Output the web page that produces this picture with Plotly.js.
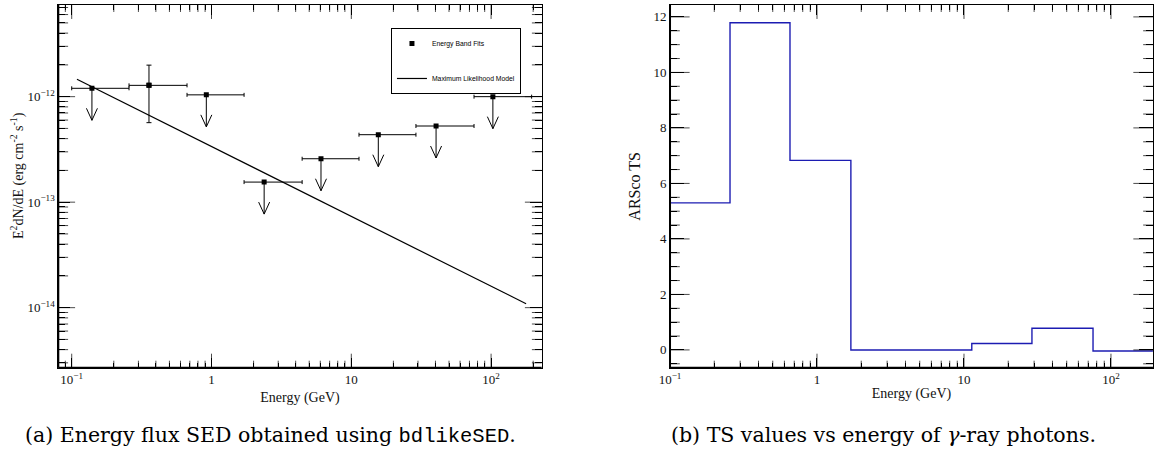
<!DOCTYPE html>
<html>
<head>
<meta charset="utf-8">
<script src="https://cdn.plot.ly/plotly-3.0.1.min.js"></script>
<style>
  html, body { margin: 0; padding: 0; background: #fff; }
  #chart { width: 1173px; height: 461px; }
</style>
</head>
<body>
<div id="chart"></div>
<script>
// ---- Energy band fits (SED), GeV and erg cm^-2 s^-1 ----
const bandEnergy = [0.1395, 0.357, 0.918, 2.38, 6.07, 15.6, 40.4, 103];
const bandLow    = [0.1, 0.257, 0.668, 1.71, 4.45, 11.35, 29.0, 75.5];
const bandHigh   = [0.257, 0.668, 1.71, 4.45, 11.35, 29.0, 75.5, 195];
const bandFlux   = [1.20e-12, 1.28e-12, 1.04e-12, 1.55e-13, 2.58e-13, 4.36e-13, 5.27e-13, 1.00e-12];
const upperLimit = [true, false, true, true, true, true, true, true];
const fluxErrUp  = [null, 1.99e-12, null, null, null, null, null, null];
const fluxErrLow = [null, 5.67e-13, null, null, null, null, null, null];

// ---- Maximum likelihood power-law model ----
const modelEnergy = [0.109, 178];
const modelFlux   = [1.46e-12, 1.09e-14];

// ---- TS per energy bin ----
const tsEdges  = [0.1, 0.256, 0.655, 1.70, 4.45, 11.3, 29.0, 75.5, 193];
const tsValues = [5.30, 11.79, 6.83, 0.0, 0.0, 0.23, 0.78, -0.04];

// ---- tick labels ----
const energyTicks = [0.1, 1, 10, 100];
const energyTickText = ['10<sup>\u22121</sup>', '1', '10', '10<sup>2</sup>'];
const fluxTicks = [1e-14, 1e-13, 1e-12];
const fluxTickText = ['10<sup>\u221214</sup>', '10<sup>\u221213</sup>', '10<sup>\u221212</sup>'];
const tsTicks = [0, 2, 4, 6, 8, 10, 12];

// minor log ticks (2..9 in each decade), minor linear ticks every 0.5
function logMinor(d0, d1) {
  const out = [];
  for (let d = d0; d <= d1; d++) for (let k = 2; k <= 9; k++) out.push(k * Math.pow(10, d));
  return out;
}
const energyMinor = logMinor(-2, 2);
const fluxMinor = logMinor(-15, -12);
const tsMinor = [];
for (let v = -1; v <= 13; v += 0.5) if (v % 2 !== 0) tsMinor.push(v);

const serif = 'Liberation Serif, Times New Roman, serif';
const tickFont = { family: serif, size: 13, color: '#111' };

const W = 1173, H = 461;
const xL = [0.0497, 0.4618], xR = [0.5712, 0.9829], yD = [0.2024, 0.9892];
const xRangeL = [-1.096, 2.362], yRangeL = [-14.569, -11.131];
const xRangeR = [-1, Math.log10(193)], yRangeR = [-0.64, 12.43];

// SED points
const ptsMain = {
  x: bandEnergy, y: bandFlux, type: 'scatter', mode: 'markers',
  xaxis: 'x', yaxis: 'y', name: 'Energy Band Fits', legendgroup: 'a',
  marker: { symbol: 'square', size: 5, color: '#000' },
  error_x: {
    type: 'data', symmetric: false,
    array: bandEnergy.map((e, i) => bandHigh[i] - e),
    arrayminus: bandEnergy.map((e, i) => e - bandLow[i]),
    color: '#000', thickness: 1, width: 2
  },
  hoverinfo: 'skip'
};
const detIdx = upperLimit.map((u, i) => u ? -1 : i).filter(i => i >= 0);
const ptsDetected = {
  x: detIdx.map(i => bandEnergy[i]), y: detIdx.map(i => bandFlux[i]),
  type: 'scatter', mode: 'markers', xaxis: 'x', yaxis: 'y', showlegend: false, legendgroup: 'a',
  marker: { symbol: 'square', size: 5, color: '#000' },
  error_y: {
    type: 'data', symmetric: false,
    array: detIdx.map(i => fluxErrUp[i] - bandFlux[i]),
    arrayminus: detIdx.map(i => bandFlux[i] - fluxErrLow[i]),
    color: '#000', thickness: 1, width: 2.5
  },
  hoverinfo: 'skip'
};
const model = {
  x: modelEnergy, y: modelFlux, type: 'scatter', mode: 'lines',
  xaxis: 'x', yaxis: 'y', name: 'Maximum Likelihood Model', legendgroup: 'b',
  line: { color: '#000', width: 1.2 }, hoverinfo: 'skip'
};

// TS histogram as a step line
const tsX = tsEdges.slice();
const tsY = tsValues.concat([tsValues[tsValues.length - 1]]);
const tsTrace = {
  x: tsX, y: tsY, type: 'scatter', mode: 'lines', line: { shape: 'hv', color: 'rgb(28,28,178)', width: 1.4 },
  xaxis: 'x2', yaxis: 'y2', showlegend: false, hoverinfo: 'skip'
};

// ROOT-style inward tick marks on all four frame sides: line markers centred on the
// frame edge; the plot-area clip keeps only the inner half.
function tickMarkers(xa, ya, xRange, xLog, yRange, yLog, xt, yt) {
  const toX = t => xLog ? Math.pow(10, t) : t;
  const toY = t => yLog ? Math.pow(10, t) : t;
  const posX = v => xLog ? Math.log10(v) : v;
  const posY = v => yLog ? Math.log10(v) : v;
  const X = [], Y = [], S = [], M = [];
  xt.forEach(([vals, len]) => vals.forEach(v => {
    const t = posX(v);
    if (t <= xRange[0] + 1e-9 || t >= xRange[1] - 1e-9) return;
    [yRange[0], yRange[1]].forEach(edge => { X.push(v); Y.push(toY(edge)); S.push(2 * len); M.push('line-ns'); });
  }));
  yt.forEach(([vals, len]) => vals.forEach(v => {
    const t = posY(v);
    if (t <= yRange[0] + 1e-9 || t >= yRange[1] - 1e-9) return;
    [xRange[0], xRange[1]].forEach(edge => { X.push(toX(edge)); Y.push(v); S.push(2 * len); M.push('line-ew'); });
  }));
  return { x: X, y: Y, type: 'scatter', mode: 'markers', xaxis: xa, yaxis: ya, cliponaxis: true,
    marker: { symbol: M, size: S, color: '#000', line: { color: '#000', width: 1 } },
    showlegend: false, hoverinfo: 'skip' };
}
const ticksL = tickMarkers('x', 'y', xRangeL, true, yRangeL, true,
  [[energyTicks, 10], [energyMinor, 5]], [[fluxTicks, 12], [fluxMinor, 7]]);
const ticksR = tickMarkers('x2', 'y2', xRangeR, true, yRangeR, false,
  [[energyTicks, 10], [energyMinor, 5]], [[tsTicks, 14], [tsMinor, 7]]);

const shapes = [];
// downward arrows (fixed pixel length) hanging from each upper-limit point
bandEnergy.forEach((e, i) => {
  if (!upperLimit[i]) return;
  shapes.push({
    type: 'path', xref: 'x', yref: 'y', xsizemode: 'pixel', ysizemode: 'pixel',
    xanchor: e, yanchor: bandFlux[i],
    path: 'M0,0 L0,-32 M-5.5,-20 L0,-32 L5.5,-20',
    line: { color: '#000', width: 1 }
  });
});
// heavier bottom/left frame edges of both panels
[xL, xR].forEach(d => {
  shapes.push({ type: 'line', xref: 'paper', yref: 'paper', x0: d[0], x1: d[1], y0: yD[0], y1: yD[0], line: { color: '#000', width: 2 } });
  shapes.push({ type: 'line', xref: 'paper', yref: 'paper', x0: d[0], x1: d[0], y0: yD[0], y1: yD[1], line: { color: '#000', width: 2 } });
});

function axisBase(extra, majorLen, minorLen, minorVals) {
  return Object.assign({
    showgrid: false, zeroline: false, showline: true, mirror: 'ticks',
    linecolor: '#000', linewidth: 1, tickfont: tickFont, tickmode: 'array',
    ticks: 'inside', ticklen: majorLen, tickwidth: 1, tickcolor: '#000',
    minor: { tickmode: 'array', tickvals: minorVals, ticks: 'inside', ticklen: minorLen, tickwidth: 1, tickcolor: '#000', showgrid: false }
  }, extra);
}

const layout = {
  width: W, height: H, margin: { l: 0, r: 0, t: 0, b: 0 },
  paper_bgcolor: '#fff', plot_bgcolor: '#fff', showlegend: true,
  legend: {
    x: 0.3333, y: 0.9393, xanchor: 'left', yanchor: 'top',
    bgcolor: '#fff', bordercolor: '#000', borderwidth: 1,
    font: { family: 'Liberation Sans, Arial, sans-serif', size: 6.8, color: '#000' },
    traceorder: 'grouped', tracegroupgap: 16
  },
  // left panel: SED
  xaxis: axisBase({ type: 'log', domain: xL, range: xRangeL, anchor: 'y',
    tickvals: energyTicks, ticktext: energyTickText,
    title: { text: 'Energy (GeV)', font: { family: serif, size: 14, color: '#111' }, standoff: 5 } }, 10, 5, energyMinor),
  yaxis: axisBase({ type: 'log', domain: yD, range: yRangeL, anchor: 'x',
    tickvals: fluxTicks, ticktext: fluxTickText }, 12, 7, fluxMinor),
  // right panel: TS
  xaxis2: axisBase({ type: 'log', domain: xR, range: xRangeR, anchor: 'y2',
    tickvals: energyTicks, ticktext: energyTickText,
    title: { text: 'Energy (GeV)', font: { family: serif, size: 14, color: '#111' }, standoff: 1 } }, 10, 5, energyMinor),
  yaxis2: axisBase({ domain: yD, range: yRangeR, anchor: 'x2', tickvals: tsTicks,
    title: { text: 'ARSco TS', font: { family: serif, size: 16, color: '#111' }, standoff: 8 } }, 14, 7, tsMinor),
  shapes: shapes,
  annotations: [
    { xref: 'paper', yref: 'paper', x: 17 / W, y: 1 - 176 / H, xanchor: 'center', yanchor: 'middle', showarrow: false,
      textangle: -90, text: 'E<sup>2</sup>dN/dE (erg cm<sup>-2</sup> s<sup>-1</sup>)',
      font: { family: serif, size: 14, color: '#111' } },
    { xref: 'paper', yref: 'paper', x: 270 / W, y: 1 - 435 / H, xanchor: 'center', yanchor: 'middle', showarrow: false,
      text: '(a) Energy flux SED obtained using <span style="font-family:Liberation Mono, monospace">bdlikeSED</span>.',
      font: { family: 'DejaVu Serif, serif', size: 20.5, color: '#000' } },
    { xref: 'paper', yref: 'paper', x: 883 / W, y: 1 - 435 / H, xanchor: 'center', yanchor: 'middle', showarrow: false,
      text: '(b) TS values vs energy of <i>\u03b3</i>-ray photons.',
      font: { family: 'DejaVu Serif, serif', size: 20.5, color: '#000' } }
  ]
};

Plotly.newPlot('chart', [ptsMain, ptsDetected, model, tsTrace, ticksL, ticksR], layout, { displayModeBar: false });
</script>
</body>
</html>
